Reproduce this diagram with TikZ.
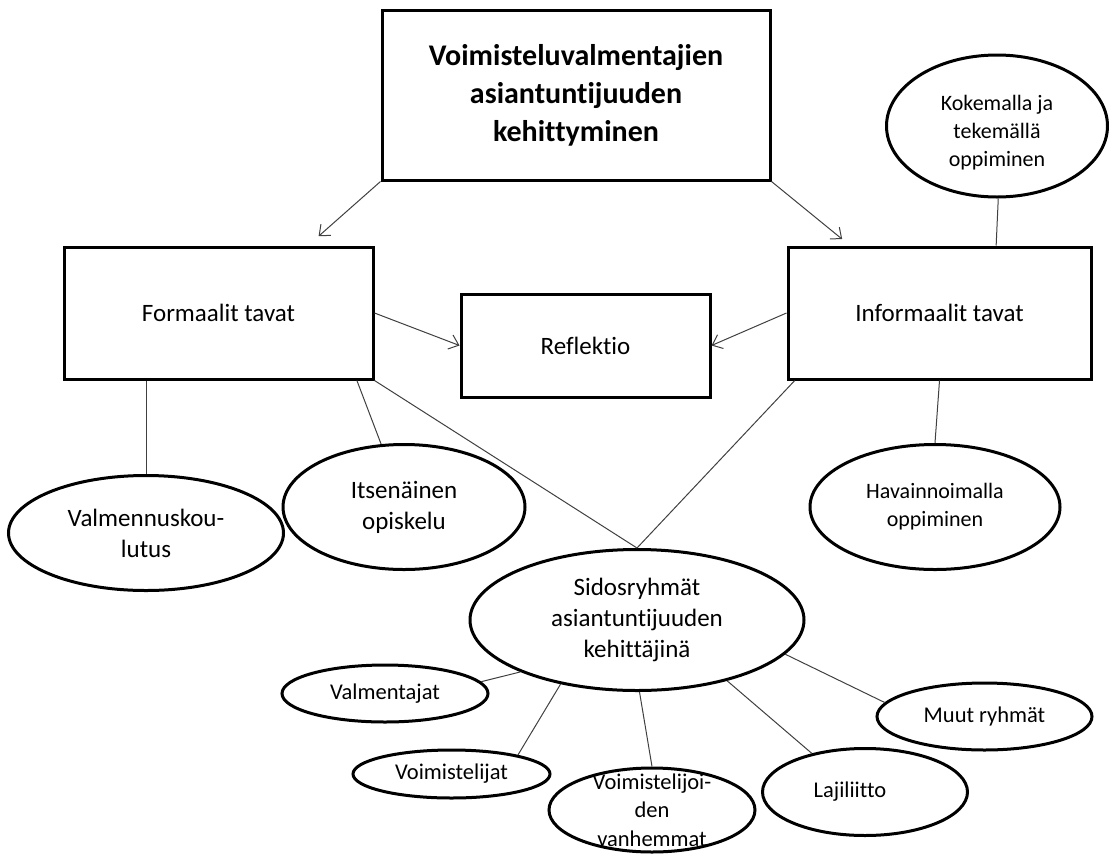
\documentclass[tikz,border=0pt]{standalone}
\usepackage{fontspec}
\setmainfont{Carlito}[Ligatures=NoCommon]
\usetikzlibrary{shapes.geometric,arrows.meta}

\begin{document}
\begin{tikzpicture}[x=1pt,y=-1pt,
    box/.style={draw, line width=3pt, inner sep=0pt, align=center, font=\fontsize{25}{31}\selectfont},
    oval/.style={ellipse, draw, line width=3pt, inner sep=0pt, align=center},
    bigtxt/.style={font=\fontsize{25}{31}\selectfont},
    midtxt/.style={font=\fontsize{22}{28}\selectfont},
    smalltxt/.style={font=\fontsize{22.5}{28.5}\selectfont},
    conn/.style={line width=1pt, black!75},
    arr/.style={conn, -{Straight Barb[length=9pt,width=15pt]}}]
  \useasboundingbox (0,0) rectangle (1109,855);

  % boxes
  \node[box, minimum width=388pt, minimum height=170pt, font=\bfseries\fontsize{30}{38}\selectfont] (title) at (576,95) {Voimisteluvalmentajien\\asiantuntijuuden\\kehittyminen};
  \node[box, minimum width=309pt, minimum height=132pt] (formaali) at (218.5,313) {Formaalit tavat};
  \node[box, minimum width=249pt, minimum height=103pt] (reflektio) at (585.5,345.5) {Reflektio};
  \node[box, minimum width=303pt, minimum height=132pt] (informaali) at (939.5,313) {Informaalit tavat};

  % ellipses
  \node[oval, minimum width=221pt, minimum height=142pt,
        label={[midtxt, align=center, yshift=-7pt]center:{Kokemalla ja\\tekemällä\\oppiminen}}] (kokemalla) at (997,126) {};
  \node[oval, midtxt, minimum width=250pt, minimum height=125pt] (havainnoimalla) at (935,507) {Havainnoimalla\\oppiminen};
  \node[oval, bigtxt, minimum width=275pt, minimum height=115pt] (valmennus) at (146,533) {Valmennuskou-\\lutus};
  \node[oval, bigtxt, minimum width=242pt, minimum height=125pt] (itsenainen) at (404,507) {Itsenäinen\\opiskelu};
  \node[oval, bigtxt, minimum width=334pt, minimum height=141pt] (sidos) at (637,620) {Sidosryhmät\\asiantuntijuuden\\kehittäjinä};

  \node[oval, smalltxt, minimum width=206pt, minimum height=57pt] (valmentajat) at (385,693.5) {Valmentajat};
  \node[oval, smalltxt, minimum width=197pt, minimum height=48pt] (voimistelijat) at (451.5,774) {Voimistelijat};
  \node[oval, minimum width=206pt, minimum height=84pt,
        label={[smalltxt, align=center]center:{Voimistelijoi-\\den\\vanhemmat}}] (vanhemmat) at (652,810) {};
  \node[oval, minimum width=205pt, minimum height=87pt,
        label={[smalltxt, xshift=-15pt]center:Lajiliitto}] (lajiliitto) at (865,792) {};
  \node[oval, smalltxt, minimum width=215pt, minimum height=67pt] (muut) at (984.5,716.5) {Muut ryhmät};

  % arrows
  \draw[arr, shorten >=14pt] (title.south west) -- (formaali.37);
  \draw[arr, shorten >=10pt] (title.south east) -- (informaali.143);
  \draw[arr] (formaali.east) -- (reflektio.west);
  \draw[arr] (informaali.west) -- (reflektio.east);

  % lines
  \draw[conn] (valmennus.north |- formaali.south) -- (valmennus.north);
  \draw[conn] (formaali.-26.8) -- (itsenainen.110);
  \draw[conn] (formaali.south east) -- (sidos.north);
  \draw[conn] (informaali.205) -- (sidos.north);
  \draw[conn] (kokemalla.-89) -- (informaali.50.5);
  \draw[conn] (informaali.south) -- (havainnoimalla.north);

  \draw[conn] (sidos.204) -- (valmentajat.7);
  \draw[conn] (sidos.220) -- (voimistelijat.16);
  \draw[conn] (sidos.272) -- (vanhemmat.north);
  \draw[conn] (sidos.326) -- (lajiliitto.144);
  \draw[conn] (sidos.347) -- (muut.172);
\end{tikzpicture}
\end{document}
